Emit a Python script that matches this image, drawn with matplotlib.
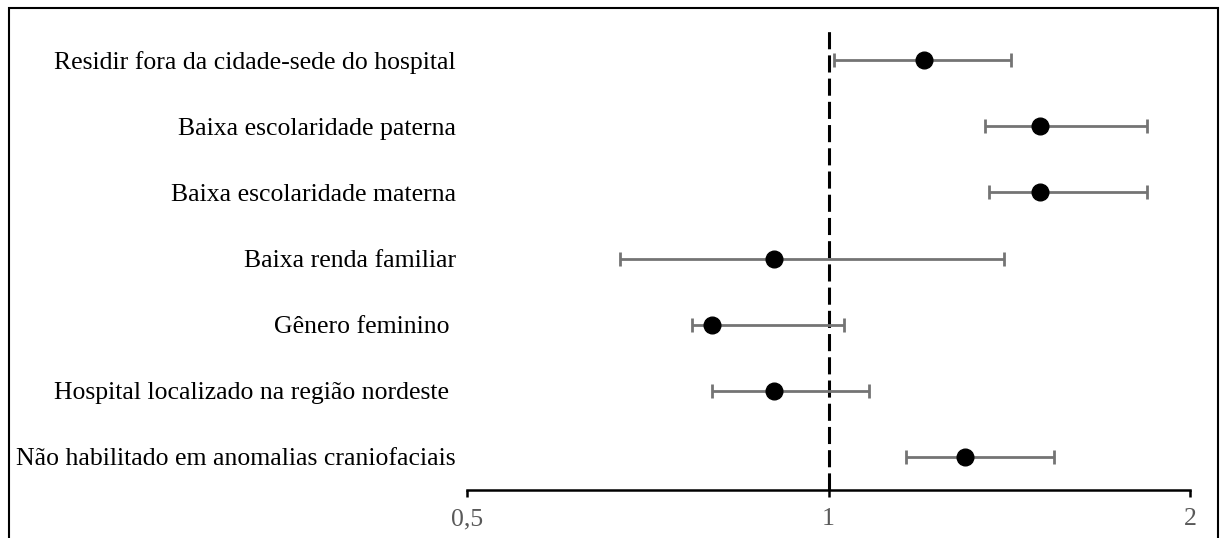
import numpy as np
import matplotlib
matplotlib.use("Agg")
import matplotlib.pyplot as plt
from matplotlib.patches import Rectangle
from matplotlib.ticker import FixedLocator, NullLocator

# odds ratios with 95% CI
labels = ["Residir fora da cidade-sede do hospital",
          "Baixa escolaridade paterna",
          "Baixa escolaridade materna",
          "Baixa renda familiar",
          "Gênero feminino ",
          "Hospital localizado na região nordeste ",
          "Não habilitado em anomalias craniofaciais"]
odds = [1.20, 1.50, 1.50, 0.90, 0.80, 0.90, 1.30]
ci_low = [1.01, 1.35, 1.36, 0.67, 0.77, 0.80, 1.16]
ci_high = [1.42, 1.84, 1.84, 1.40, 1.03, 1.08, 1.54]
tick_vals = [0.5, 1, 2]
tick_labels = ["0,5", "1", "2"]

plt.rcParams['font.family'] = ['Liberation Serif', 'DejaVu Serif']

fig = plt.figure(figsize=(12.21, 5.38), dpi=100)
ax = fig.add_axes([467 / 1221, 48 / 538, 723 / 1221, 463 / 538])

n = len(labels)
ypos = np.arange(n, 0, -1)
odds = np.array(odds)
err = [odds - np.array(ci_low), np.array(ci_high) - odds]

ax.errorbar(odds, ypos, xerr=err, fmt='o', color='black', markersize=12,
            ecolor='#747474', elinewidth=2, capsize=4.8, capthick=2, zorder=3)
ax.axvline(1, color='black', lw=2.2, dashes=(5.6, 2.0), zorder=2)

ax.set_xscale('log', base=2)
ax.set_xlim(0.5, 2)
ax.set_ylim(0.5, n + 0.5)
ax.xaxis.set_major_locator(FixedLocator(tick_vals))
ax.xaxis.set_minor_locator(NullLocator())
ax.set_xticklabels(tick_labels)
ax.set_yticks(ypos)
ax.set_yticklabels(labels, fontsize=18.5)
ax.tick_params(axis='y', length=0, pad=8)
ax.tick_params(axis='x', direction='out', length=5, width=1.8, pad=8,
               labelsize=18.5, labelcolor='#595959')

for s in ['top', 'left', 'right']:
    ax.spines[s].set_visible(False)
ax.spines['bottom'].set_linewidth(1.8)

# outer frame
fig.patches.append(Rectangle((9 / 1221, -0.05), 1209 / 1221, 1.05 - 8 / 538,
                             transform=fig.transFigure, fill=False,
                             edgecolor='black', lw=1.5))

fig.savefig("out.png", dpi=100)
